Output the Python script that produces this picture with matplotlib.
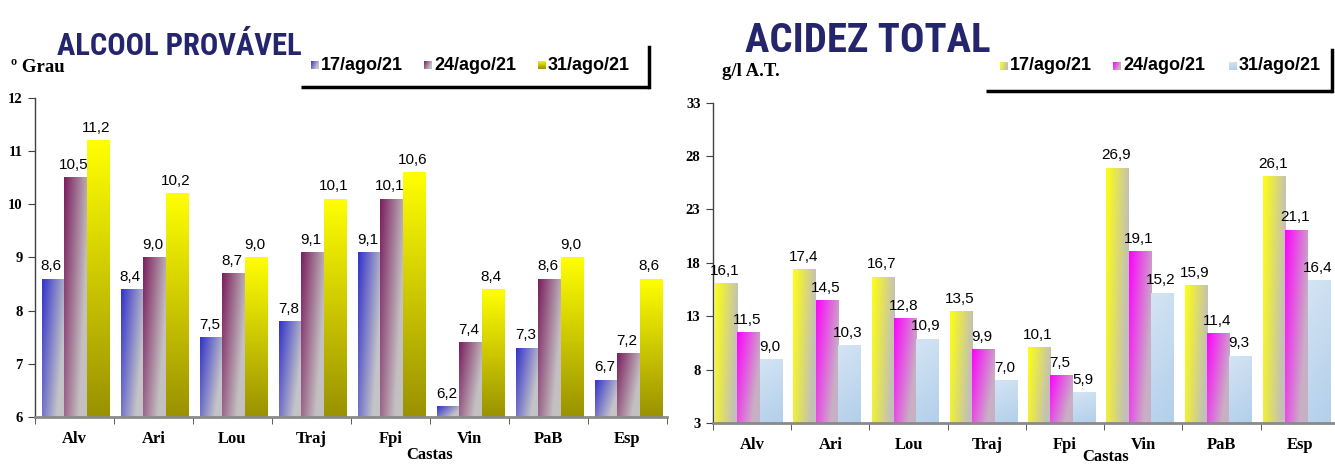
import numpy as np
import matplotlib
matplotlib.use("Agg")
import matplotlib.pyplot as plt
from matplotlib import font_manager as fm
from matplotlib.lines import Line2D

# ---------------- data ----------------
castas = ["Alv", "Ari", "Lou", "Traj", "Fpi", "Vin", "PaB", "Esp"]
datas = ["17/ago/21", "24/ago/21", "31/ago/21"]

alcool_17 = [8.6, 8.4, 7.5, 7.8, 9.1, 6.2, 7.3, 6.7]
alcool_24 = [10.5, 9.0, 8.7, 9.1, 10.1, 7.4, 8.6, 7.2]
alcool_31 = [11.2, 10.2, 9.0, 10.1, 10.6, 8.4, 9.0, 8.6]

acidez_17 = [16.1, 17.4, 16.7, 13.5, 10.1, 26.9, 15.9, 26.1]
acidez_24 = [11.5, 14.5, 12.8, 9.9, 7.5, 19.1, 11.4, 21.1]
acidez_31 = [9.0, 10.3, 10.9, 7.0, 5.9, 15.2, 9.3, 16.4]

alcool_ticks = [6, 7, 8, 9, 10, 11, 12]
acidez_ticks = [3, 8, 13, 18, 23, 28, 33]

# ---------------- helpers ----------------
W, H = 1335, 465
fig = plt.figure(figsize=(W / 100, H / 100), dpi=100)


def fx(x):
    return x / W


def fy(y):
    return 1 - y / H


def hex2rgb(h):
    h = h.lstrip("#")
    return np.array([int(h[i:i + 2], 16) / 255 for i in (0, 2, 4)])


# gradient definitions: (start colour, end colour, wx, wy)  t = wx*u + wy*(1-v)
GRADS = {
    "L1": ("#3232CC", "#C4C4C8", 0.85, 0.45),
    "L2": ("#7A1E5E", "#C4C0C2", 0.85, 0.45),
    "L3": ("#FFFF00", "#9A9200", 0.0, 1.0),
    "R1": ("#FFFF10", "#C2C0B8", 0.95, 0.25),
    "R2": ("#FF00FF", "#C8B0C4", 0.85, 0.45),
    "R3": ("#D4E4F4", "#B2CFEA", 0.2, 0.8),
}


def grad_img(kind, n=64):
    c0, c1, wx, wy = GRADS[kind]
    c0, c1 = hex2rgb(c0), hex2rgb(c1)
    u = np.linspace(0, 1, n)[None, :]
    v = np.linspace(1, 0, n)[:, None]  # row 0 = top
    t = np.clip(wx * u + wy * (1 - v), 0, 1)
    return c0[None, None, :] * (1 - t[..., None]) + c1[None, None, :] * t[..., None]


def fmt(v):
    return f"{v:.1f}".replace(".", ",")


SERIF = "Liberation Serif"
SANS = "Liberation Sans"


def draw_chart(ax, series, kinds, ticks, shift):
    ymin, ymax = ticks[0], ticks[-1]
    x = np.arange(len(castas))
    w = 0.285
    offs = [-w + shift, shift, w + shift]
    for vals, kind, off in zip(series, kinds, offs):
        bars = ax.bar(x + off, vals, width=w, facecolor="none", edgecolor="none", zorder=2)
        img = grad_img(kind)
        for p, v in zip(bars.patches, vals):
            x0 = p.get_x()
            x1 = x0 + p.get_width()
            y0 = max(p.get_y(), ymin)
            y1 = p.get_y() + p.get_height()
            im = ax.imshow(img, extent=[x0, x1, y0, y1], aspect="auto", origin="upper",
                           interpolation="bilinear", zorder=2)
            im.set_clip_path(p)
            ax.annotate(fmt(v), (x0 + p.get_width() / 2, y1), xytext=(-1, 6),
                        textcoords="offset points", ha="center", va="baseline",
                        fontsize=11, family=SANS, color="black", zorder=4,
                        annotation_clip=False)
    ax.set_xlim(-0.5, len(castas) - 0.5)
    ax.set_ylim(ymin, ymax)
    ax.set_yticks(ticks)
    ax.set_yticklabels([str(t) for t in ticks], family=SERIF, fontweight="bold", fontsize=10.5)
    ax.set_xticks(x)
    ax.set_xticklabels(castas, family=SERIF, fontweight="bold", fontsize=12)
    ax.set_xticks(np.arange(-0.5, len(castas)), minor=True)
    ax.tick_params(axis="x", which="major", length=0, pad=10)
    ax.tick_params(axis="x", which="minor", length=5, color="#404040", direction="out")
    ax.tick_params(axis="y", length=5, color="#404040", direction="out", pad=4)
    for s in ("top", "right"):
        ax.spines[s].set_visible(False)
    ax.spines["left"].set_color("#404040")
    ax.spines["left"].set_linewidth(1.0)
    ax.spines["bottom"].set_color("#8A8A8A")
    ax.spines["bottom"].set_linewidth(2.0)
    ax.spines["bottom"].set_zorder(3)
    ax.set_facecolor("none")


# ---------------- left chart ----------------
axL = fig.add_axes([fx(35), fy(417), (667 - 35) / W, (417 - 97.5) / H])
draw_chart(axL, [alcool_17, alcool_24, alcool_31], ["L1", "L2", "L3"], alcool_ticks, 0.01)

# ---------------- right chart ----------------
axR = fig.add_axes([fx(713), fy(423), (1339 - 713) / W, (423 - 102.7) / H])
draw_chart(axR, [acidez_17, acidez_24, acidez_31], ["R1", "R2", "R3"], acidez_ticks, -0.045)

# axis labels
fig.text(fx(430), fy(455), "Castas", family=SERIF, fontweight="bold", fontsize=12,
         ha="center", va="center")
fig.text(fx(1106), fy(456.5), "Castas", family=SERIF, fontweight="bold", fontsize=12,
         ha="center", va="center")
fig.text(fx(11), fy(68), "º Grau", family=SERIF, fontweight="bold", fontsize=13.5,
         ha="left", va="center")
fig.text(fx(722), fy(72), "g/l A.T.", family=SERIF, fontweight="bold", fontsize=13.5,
         ha="left", va="center")


# ---------------- titles ----------------
def pick_title_font():
    cands = [dict(family="Liberation Sans Narrow"), dict(family="Roboto Condensed"),
             dict(family="Open Sans Condensed"), dict(family="DejaVu Sans", stretch="condensed"),
             dict(family="Noto Sans", stretch="condensed")]
    for c in cands:
        fp = fm.FontProperties(weight="bold", **c)
        try:
            path = fm.findfont(fp, fallback_to_default=False)
        except Exception:
            continue
        if any(k in path.lower() for k in ("narrow", "condensed", "cond")):
            return fp
    return fm.FontProperties(family="Liberation Sans", weight="bold")


tfp = pick_title_font()
titles = [("ALCOOL PROVÁVEL", 57, 302, 55), ("ACIDEZ TOTAL", 745, 990, 52)]
renderer = fig.canvas.get_renderer()
for txt, x0, x1, ybase in titles:
    t = fig.text(fx(x0), fy(ybase), txt, fontproperties=tfp, fontsize=30,
                 color="#25256E", ha="left", va="baseline")
    bb = t.get_window_extent(renderer)
    size = 30 * (x1 - x0) / bb.width
    size = min(size, 40)
    t.set_fontsize(size)

# ---------------- legends ----------------
leg_defs = [
    (["L1", "L2", "L3"], [315, 428, 542], [321, 434, 548], 65, (301, 649, 87, 47)),
    (["R1", "R2", "R3"], [1004, 1117, 1233], [1010, 1123, 1239], 66, (986, 1332, 91, 50)),
]
for kinds, sq_x, tx_x, yc, (lx0, lx1, ly, ltop) in leg_defs:
    for kind, sx, tx, lab in zip(kinds, sq_x, tx_x, datas):
        sq = fig.add_axes([fx(sx - 4), fy(yc + 4), 8 / W, 8 / H])
        sq.imshow(grad_img(kind, 16), aspect="auto", interpolation="bilinear")
        sq.axis("off")
        fig.text(fx(tx), fy(yc), lab, family=SANS, fontweight="bold", fontsize=13,
                 ha="left", va="center")
    fig.add_artist(Line2D([fx(lx0), fx(lx1)], [fy(ly), fy(ly)], color="black", lw=2.5,
                          transform=fig.transFigure, solid_capstyle="butt"))
    fig.add_artist(Line2D([fx(lx1), fx(lx1)], [fy(ltop), fy(ly)], color="black", lw=2.5,
                          transform=fig.transFigure, solid_capstyle="projecting"))

fig.savefig("out.png", dpi=100, facecolor="white")
